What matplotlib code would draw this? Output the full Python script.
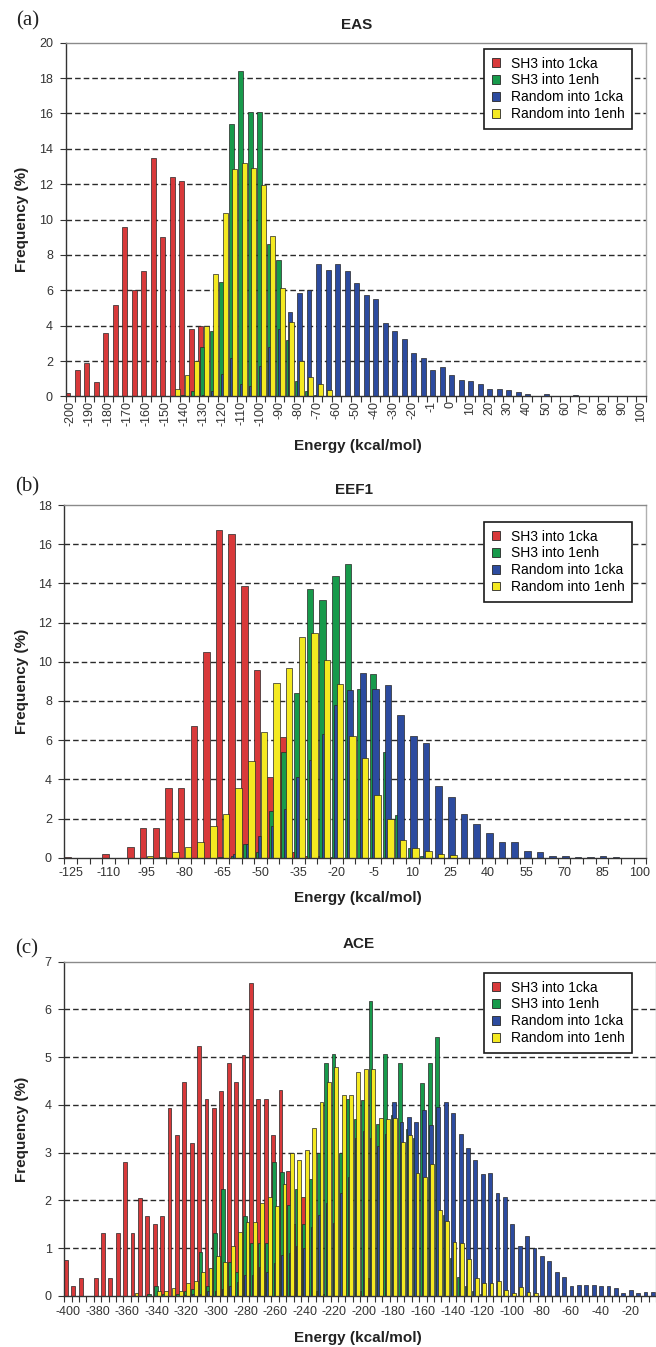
import numpy as np
import matplotlib.pyplot as plt
from matplotlib.patches import Patch

plt.rcParams['font.family'] = ['Liberation Sans', 'DejaVu Sans']

series_names = ["SH3 into 1cka", "SH3 into 1enh", "Random into 1cka", "Random into 1enh"]
colors = ['#D8393A', '#179A4B', '#2C4B9F', '#F4E921']

# ---- (a) EAS, -200 .. 100 step 5
cats_a = list(range(-200, 101, 5))
red_a = [0.2, 1.5, 1.9, 0.8, 3.6, 5.2, 9.6, 6.0, 7.1, 13.5,
         9.0, 12.4, 12.2, 3.8, 4.0, 0, 0, 0, 0, 0,
         0, 0, 0, 0, 0, 0, 0, 0, 0, 0,
         0, 0, 0, 0, 0, 0, 0, 0, 0, 0,
         0, 0, 0, 0, 0, 0, 0, 0, 0, 0,
         0, 0, 0, 0, 0, 0, 0, 0, 0, 0,
         0]
green_a = [0, 0, 0, 0, 0, 0, 0, 0, 0, 0,
           0, 0, 0.1, 0.3, 2.8, 3.7, 6.5, 15.4, 18.4, 16.1,
           16.1, 8.6, 7.7, 3.2, 0.9, 0.3, 0.1, 0, 0, 0,
           0, 0, 0, 0, 0, 0, 0, 0, 0, 0,
           0, 0, 0, 0, 0, 0, 0, 0, 0, 0,
           0, 0, 0, 0, 0, 0, 0, 0, 0, 0,
           0]
blue_a = [0, 0, 0, 0, 0, 0, 0, 0, 0, 0,
          0, 0, 0, 0.05, 0.1, 0.3, 1.3, 2.2, 0.7, 0.6,
          1.75, 2.8, 3.8, 4.76, 5.86, 6.03, 7.5, 7.14, 7.48, 7.1,
          6.44, 5.74, 5.5, 4.14, 3.71, 3.26, 2.45, 2.17, 1.5, 1.64,
          1.22, 0.94, 0.9, 0.72, 0.43, 0.43, 0.34, 0.28, 0.15, 0.05,
          0.15, 0.02, 0.02, 0.1, 0, 0, 0, 0, 0, 0,
          0]
yellow_a = [0, 0, 0, 0, 0, 0, 0, 0, 0, 0,
            0.05, 0.43, 1.22, 1.98, 3.97, 6.93, 10.4, 12.86, 13.2, 12.9,
            11.96, 9.06, 6.12, 4.2, 2.03, 1.13, 0.72, 0.34, 0.05, 0,
            0, 0, 0, 0, 0, 0, 0, 0, 0, 0,
            0, 0, 0, 0, 0, 0, 0, 0, 0, 0,
            0, 0, 0, 0, 0, 0, 0, 0, 0, 0,
            0]
labels_a = ["-200", "-190", "-180", "-170", "-160", "-150", "-140", "-130", "-120",
            "-110", "-100", "-90", "-80", "-70", "-60", "-50", "-40", "-30", "-20",
            "-1", "0", "10", "20", "30", "40", "50", "60", "70", "80", "90", "100"]

# ---- (b) EEF1, -125 .. 100 step 5
cats_b = list(range(-125, 101, 5))
red_b = [0.05, 0, 0, 0.17, 0, 0.53, 1.5, 1.5, 3.57, 3.57,
         6.72, 10.48, 16.72, 16.5, 13.86, 9.57, 4.1, 6.17, 0.3, 0.1,
         0.1, 0.05, 0, 0, 0, 0, 0, 0, 0, 0,
         0, 0, 0, 0, 0, 0, 0, 0, 0, 0,
         0, 0, 0, 0, 0, 0]
green_b = [0, 0, 0, 0, 0, 0, 0, 0, 0, 0,
           0, 0, 0.05, 0.1, 0.7, 0.3, 2.4, 5.4, 8.4, 13.7,
           13.15, 14.4, 15.0, 8.6, 9.4, 5.4, 2.2, 0.5, 0.1, 0,
           0, 0, 0, 0, 0, 0, 0, 0, 0, 0,
           0, 0, 0, 0, 0, 0]
blue_b = [0, 0, 0, 0, 0, 0, 0, 0, 0, 0,
          0, 0, 0, 0.2, 0.7, 1.1, 1.6, 2.5, 4.1, 5.0,
          6.3, 7.8, 8.55, 9.44, 8.6, 8.8, 7.28, 6.2, 5.83, 3.67,
          3.11, 2.23, 1.72, 1.28, 0.78, 0.82, 0.34, 0.27, 0.1, 0.1,
          0.05, 0.05, 0.08, 0.05, 0, 0]
yellow_b = [0, 0, 0, 0, 0, 0, 0.1, 0.05, 0.3, 0.56,
            0.82, 1.62, 2.23, 3.54, 4.95, 6.43, 8.9, 9.7, 11.28, 11.48,
            10.1, 8.85, 6.22, 5.07, 3.2, 2.0, 0.9, 0.51, 0.34, 0.19,
            0.14, 0, 0, 0, 0, 0, 0, 0, 0, 0,
            0, 0, 0, 0, 0, 0]
labels_b = ["-125", "-110", "-95", "-80", "-65", "-50", "-35", "-20", "-5",
            "10", "25", "40", "55", "70", "85", "100"]

# ---- (c) ACE, -400 .. -5 step 5
cats_c = list(range(-400, 0, 5))
red_c = [0.75, 0.2, 0.37, 0, 0.37, 1.31, 0.37, 1.31, 2.81, 1.31,
         2.06, 1.68, 1.5, 1.68, 3.94, 3.38, 4.49, 3.2, 5.24, 4.12,
         3.94, 4.3, 4.87, 4.49, 5.05, 6.56, 4.12, 4.12, 3.37, 4.31,
         2.62, 1.5, 2.07, 0.2, 0.1, 0.05, 0, 0, 0, 0,
         0.1, 0.37, 0, 0.16, 0, 0, 0, 0, 0, 0,
         0, 0, 0, 0, 0, 0, 0, 0, 0, 0,
         0, 0, 0, 0, 0, 0, 0, 0, 0, 0,
         0, 0, 0, 0, 0, 0, 0, 0, 0, 0]
green_c = [0, 0, 0, 0, 0, 0, 0, 0, 0, 0,
           0, 0.05, 0.2, 0.05, 0, 0.05, 0.1, 0.15, 0.93, 0.2,
           1.31, 2.25, 0.72, 0.5, 1.68, 1.1, 1.1, 1.1, 2.8, 2.6,
           1.9, 2.25, 1.5, 2.44, 3.0, 4.87, 5.06, 3.0, 4.12, 3.7,
           4.1, 6.18, 3.6, 5.06, 3.8, 4.87, 3.5, 3.3, 4.47, 4.87,
           5.43, 1.7, 0.8, 0.4, 0.2, 0.1, 0.05, 0, 0, 0,
           0, 0, 0, 0, 0, 0, 0, 0, 0, 0,
           0, 0, 0, 0, 0, 0, 0, 0, 0, 0]
blue_c = [0, 0, 0, 0, 0, 0, 0, 0, 0, 0,
          0, 0, 0, 0, 0, 0, 0.02, 0.05, 0.05, 0.1,
          0.1, 0.15, 0.2, 0.3, 0.45, 0.45, 0.6, 0.5, 0.7, 0.85,
          0.9, 1.05, 1.0, 1.45, 1.7, 1.95, 1.52, 2.15, 2.5, 3.3,
          3.45, 3.3, 3.15, 3.4, 4.07, 3.64, 3.74, 3.65, 3.9, 3.58,
          3.96, 4.07, 3.84, 3.39, 3.1, 2.85, 2.55, 2.58, 2.15, 2.07,
          1.51, 1.05, 1.26, 1.0, 0.84, 0.73, 0.5, 0.4, 0.2, 0.24,
          0.24, 0.22, 0.21, 0.2, 0.16, 0.07, 0.13, 0.07, 0.09, 0.09]
yellow_c = [0, 0, 0, 0, 0, 0, 0, 0, 0, 0.07,
            0, 0, 0.1, 0.1, 0.17, 0.1, 0.27, 0.32, 0.5, 0.58,
            0.84, 0.72, 1.05, 1.33, 1.54, 1.54, 1.95, 2.07, 1.88, 2.34,
            3.0, 2.85, 3.06, 3.52, 4.07, 4.49, 4.8, 4.2, 4.2, 4.7,
            4.75, 4.75, 3.72, 3.7, 3.72, 3.23, 3.37, 2.58, 2.5, 2.76,
            1.8, 1.56, 1.14, 1.1, 0.77, 0.37, 0.28, 0.28, 0.32, 0.13,
            0.06, 0.18, 0.08, 0.06, 0, 0, 0, 0, 0, 0,
            0, 0, 0, 0, 0, 0, 0, 0, 0, 0]
labels_c = [str(v) for v in range(-400, 0, 20)]

W, H = 656, 1347
fig = plt.figure(figsize=(W / 100, H / 100), dpi=100)


def add_ax(left, top, right, bottom):
    return fig.add_axes([left / W, 1 - bottom / H, (right - left) / W, (bottom - top) / H])


def ftext(x, y, s, **kw):
    fig.text(x / W, 1 - y / H, s, ha='center', va='center', **kw)


offsets = [-0.27, -0.09, 0.09, 0.27]


def panel(ax, cats, series, ymax, ystep, labels, every, rot, pad, leg_anchor):
    x = np.arange(len(cats))
    for vals, col, off in zip(series, colors, offsets):
        ax.bar(x + off, vals, width=0.52, color=col, edgecolor='#262626',
               linewidth=0.5, zorder=2)
    ax.set_xlim(-0.5, len(cats) - 0.5)
    ax.set_ylim(0, ymax)
    yt = np.arange(0, ymax + 0.01, ystep)
    ax.set_yticks(yt)
    ax.set_yticklabels([f"{v:g}" for v in yt])
    for v in yt[1:-1]:
        ax.axhline(v, color='#2a2a2a', lw=1.0, ls=(0, (4, 2.2)), zorder=1)
    ax.set_xticks(x[::every])
    ax.set_xticklabels(labels, rotation=rot)
    ax.set_xticks(np.arange(-0.5, len(cats), 1), minor=True)
    ax.tick_params(axis='x', which='major', length=0, pad=pad, labelsize=9, colors='#333333')
    ax.tick_params(axis='x', which='minor', length=4, width=0.8, color='#333333')
    ax.tick_params(axis='y', length=4, width=0.8, pad=5, labelsize=9,
                   colors='#333333')
    ax.spines['left'].set_color('#333333')
    ax.spines['bottom'].set_color('#333333')
    ax.spines['top'].set_color('#8a8a8a')
    ax.spines['right'].set_color('#b0b0b0')
    for s in ax.spines.values():
        s.set_linewidth(1.0)
    handles = [Patch(facecolor=c, edgecolor='#262626', linewidth=0.6) for c in colors]
    leg = ax.legend(handles, series_names, loc='upper right', bbox_to_anchor=leg_anchor,
                    fontsize=10, frameon=True, fancybox=False, framealpha=1,
                    edgecolor='#1a1a1a', handlelength=0.6, handleheight=0.6,
                    handletextpad=0.75, labelspacing=0.2, borderpad=0.55,
                    borderaxespad=0)
    leg.get_frame().set_linewidth(1.2)
    leg.set_zorder(5)


ax_a = add_ax(65.5, 42.7, 646, 396.5)
panel(ax_a, cats_a, [red_a, green_a, blue_a, yellow_a], 20, 2, labels_a, 2, 90, 3,
      (0.976, 0.982))
ax_b = add_ax(64.4, 505, 646.3, 857.7)
panel(ax_b, cats_b, [red_b, green_b, blue_b, yellow_b], 18, 2, labels_b, 3, 0, 7,
      (0.9754, 0.952))
ax_c = add_ax(64.3, 961.7, 655.9, 1296)
panel(ax_c, cats_c, [red_c, green_c, blue_c, yellow_c], 7, 1, labels_c, 4, 0, 7,
      (0.9596, 0.966))

# titles, axis labels and panel letters
for letter, (tx, ty, title), (lx, ly), xl_y, yl_y in [
        ("(a)", (357, 25, "EAS"), (28, 21), 446, 219),
        ("(b)", (354, 490, "EEF1"), (27, 487), 898, 681),
        ("(c)", (359, 944, "ACE"), (27, 949), 1338, 1129)]:
    ftext(tx, ty, title, fontsize=11, fontweight='bold', color='#222222')
    ftext(lx, ly, letter, fontsize=15, family='Liberation Serif', color='#222222')
    ftext(358, xl_y, "Energy (kcal/mol)", fontsize=11, fontweight='bold', color='#222222')
    ftext(22, yl_y, "Frequency (%)", fontsize=11, fontweight='bold', rotation=90,
          color='#222222')

fig.savefig("out.png", dpi=100)
